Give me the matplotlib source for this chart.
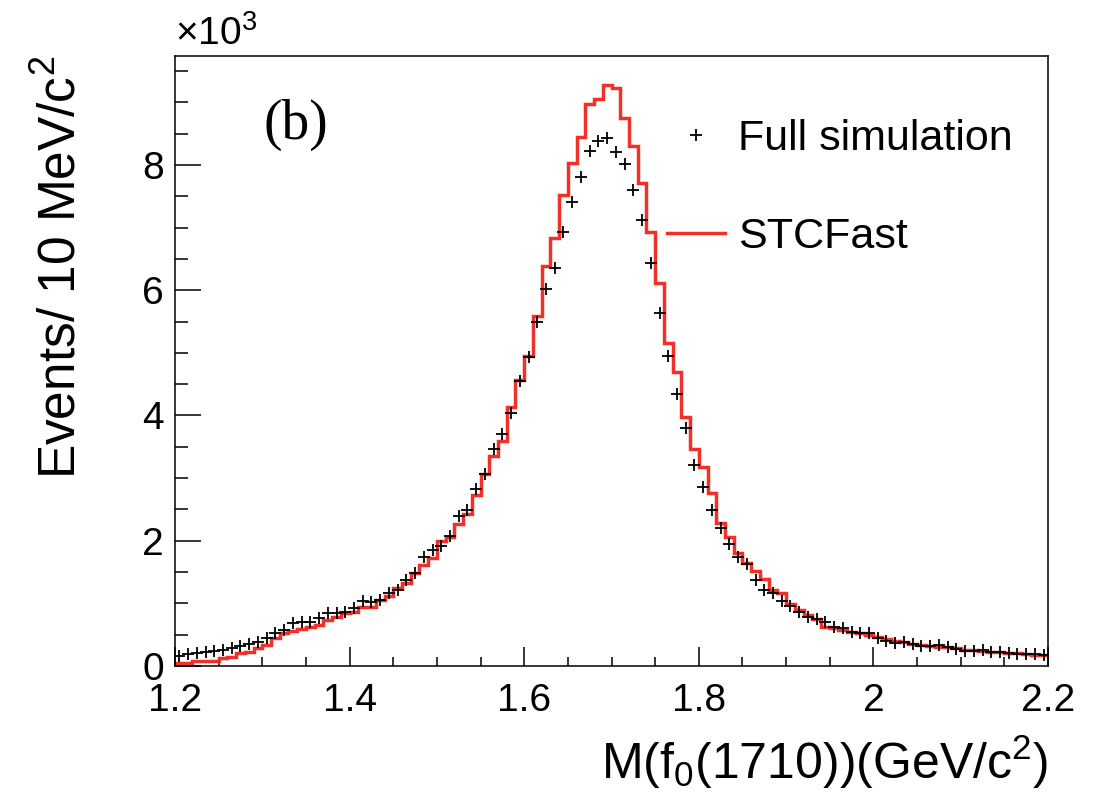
import numpy as np
import matplotlib
matplotlib.use('Agg')
import matplotlib.pyplot as plt
from matplotlib.ticker import MultipleLocator

plt.rcParams['font.family'] = ['Liberation Sans', 'DejaVu Sans']
plt.rcParams['mathtext.fontset'] = 'custom'
plt.rcParams['mathtext.rm'] = 'Liberation Sans'
plt.rcParams['mathtext.it'] = 'Liberation Sans:italic'

# 100 bins of 10 MeV from 1.2 to 2.2 GeV
bin_edges = np.linspace(1.2, 2.2, 101)
bin_centers = 0.5 * (bin_edges[:-1] + bin_edges[1:])

# events per bin, in units of 10^3
full_sim = [
    0.16, 0.19, 0.21, 0.23, 0.24, 0.26, 0.29, 0.32, 0.35, 0.39,
    0.44, 0.52, 0.58, 0.69, 0.70, 0.70, 0.76, 0.84, 0.84, 0.87,
    0.93, 1.04, 1.02, 1.05, 1.17, 1.21, 1.37, 1.49, 1.74, 1.86,
    1.91, 2.07, 2.39, 2.49, 2.83, 3.06, 3.46, 3.71, 4.04, 4.55,
    4.93, 5.49, 6.02, 6.36, 6.93, 7.41, 7.81, 8.23, 8.39, 8.43,
    8.21, 8.02, 7.60, 7.12, 6.44, 5.64, 4.95, 4.35, 3.80, 3.21,
    2.86, 2.49, 2.20, 1.95, 1.74, 1.63, 1.37, 1.21, 1.16, 1.04,
    0.96, 0.86, 0.78, 0.75, 0.70, 0.63, 0.61, 0.55, 0.52, 0.52,
    0.45, 0.40, 0.37, 0.38, 0.35, 0.32, 0.32, 0.33, 0.30, 0.27,
    0.24, 0.24, 0.25, 0.22, 0.22, 0.21, 0.19, 0.19, 0.19, 0.18,
]

stcfast = [
    0.05, 0.05, 0.08, 0.08, 0.08, 0.13, 0.14, 0.20, 0.22, 0.28,
    0.34, 0.45, 0.53, 0.56, 0.59, 0.63, 0.66, 0.74, 0.79, 0.84,
    0.87, 0.94, 0.94, 1.06, 1.11, 1.25, 1.33, 1.49, 1.62, 1.73,
    1.99, 2.06, 2.26, 2.42, 2.73, 3.06, 3.35, 3.60, 4.14, 4.57,
    4.95, 5.59, 6.38, 6.84, 7.52, 8.03, 8.45, 8.98, 9.06, 9.28,
    9.23, 8.75, 8.31, 7.72, 6.93, 6.12, 5.15, 4.69, 3.98, 3.47,
    3.18, 2.76, 2.28, 2.06, 1.80, 1.64, 1.52, 1.39, 1.21, 1.16,
    0.99, 0.89, 0.81, 0.75, 0.63, 0.61, 0.58, 0.54, 0.52, 0.50,
    0.47, 0.43, 0.40, 0.38, 0.35, 0.34, 0.32, 0.31, 0.30, 0.28,
    0.26, 0.25, 0.24, 0.23, 0.22, 0.21, 0.20, 0.19, 0.18, 0.18,
]

fig = plt.figure(figsize=(10.98, 7.95), dpi=100)
ax = fig.add_axes([175/1098, 1 - 666/795, 873/1098, 610/795])

ax.stairs(stcfast, bin_edges, baseline=None, color='#f2302a', lw=2.5,
          label='STCFast', zorder=2)
ax.plot(bin_centers, full_sim, ls='none', marker='+', ms=8.5, mew=1.3,
        color='black', label='Full simulation', zorder=3)

ax.set_xlim(1.2, 2.2)
ax.set_ylim(0, 9.74)
ax.xaxis.set_major_locator(MultipleLocator(0.2))
ax.xaxis.set_minor_locator(MultipleLocator(0.05))
ax.yaxis.set_major_locator(MultipleLocator(2))
ax.yaxis.set_minor_locator(MultipleLocator(0.5))
ax.set_xticks([1.2, 1.4, 1.6, 1.8, 2.0, 2.2], ['1.2', '1.4', '1.6', '1.8', '2', '2.2'])

ax.tick_params(which='both', direction='in', top=False, right=False, width=1.1)
ax.tick_params(axis='x', which='major', length=13.7, pad=12, labelsize=28)
ax.tick_params(axis='x', which='minor', length=6.5)
ax.tick_params(axis='y', which='major', length=18.7, pad=8, labelsize=28)
ax.tick_params(axis='y', which='minor', length=9.4)
for s in ax.spines.values():
    s.set_linewidth(1.1)

ax.set_xlabel(r'M(f$_0$(1710))(GeV/c$^2$)', fontsize=36, loc='right', labelpad=10)
ax.set_ylabel(r'Events/ 10 MeV/c$^2$', fontsize=37, loc='top', labelpad=40)
ax.text(0, 1.005, r'$\times$10$^3$', transform=ax.transAxes, fontsize=28,
        ha='left', va='bottom')
ax.text(0.139, 0.887, '(b)', transform=ax.transAxes, fontsize=40,
        family='Liberation Serif', ha='center', va='center')

handles, labels = ax.get_legend_handles_labels()
ax.legend(handles[::-1], labels[::-1], loc='upper left',
          bbox_to_anchor=(0.5636, 0.897), frameon=False, fontsize=31,
          handlelength=1.35, handletextpad=0.3, labelspacing=1.35,
          borderpad=0, borderaxespad=0)

fig.savefig('out.png', dpi=100)
